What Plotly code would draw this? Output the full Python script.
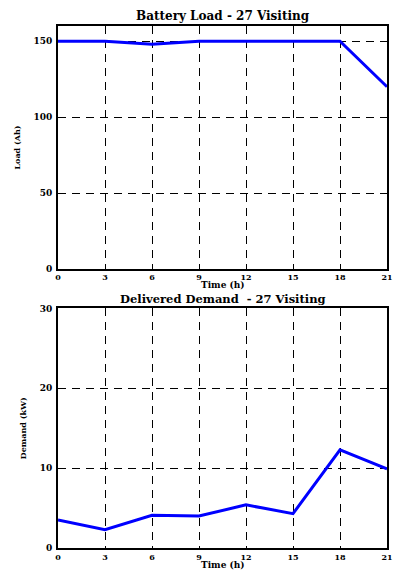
import plotly.graph_objects as go

hours = [0, 3, 6, 9, 12, 15, 18, 21]
battery_load = [150, 150, 148, 150, 150, 150, 150, 120]
delivered_demand = [3.5, 2.3, 4.1, 4.0, 5.4, 4.3, 12.3, 9.9]
x_ticks = [0, 3, 6, 9, 12, 15, 18, 21]
load_ticks = [0, 50, 100, 150]
demand_ticks = [0, 10, 20, 30]

FONT = "DejaVu Serif"
TOP_DOM = [0.5345, 1]
BOT_DOM = [0, 0.459]

fig = go.Figure()
fig.add_trace(go.Scatter(x=hours, y=battery_load, mode="lines",
                         line=dict(color="#0000FF", width=3), xaxis="x", yaxis="y"))
fig.add_trace(go.Scatter(x=hours, y=delivered_demand, mode="lines",
                         line=dict(color="#0000FF", width=3), xaxis="x2", yaxis="y2"))

axis_common = dict(showline=True, linecolor="black", linewidth=1.8, mirror=True,
                   showgrid=True, gridcolor="black", gridwidth=1, griddash="8px,6px",
                   zeroline=False, ticks="")
xtickfont = dict(family=FONT, size=8, color="black", weight="bold")
ytickfont = dict(family=FONT, size=9, color="black", weight="bold")

fig.update_layout(
    width=401, height=571,
    margin=dict(l=58, r=8, t=26, b=23),
    plot_bgcolor="white", paper_bgcolor="white",
    showlegend=False,
    font=dict(family=FONT, color="black"),
    xaxis=dict(domain=[0, 1], anchor="y", range=[0, 21], tickvals=x_ticks,
               ticklabelstandoff=0, tickfont=xtickfont, **axis_common),
    yaxis=dict(domain=TOP_DOM, anchor="x", range=[0, 160], tickvals=load_ticks,
               ticklabelstandoff=2, tickfont=ytickfont,
               title=dict(text="<b>Load (Ah)</b>", font=dict(family=FONT, size=8), standoff=12),
               **axis_common),
    xaxis2=dict(domain=[0, 1], anchor="y2", range=[0, 21], tickvals=x_ticks,
                ticklabelstandoff=0, tickfont=xtickfont, **axis_common),
    yaxis2=dict(domain=BOT_DOM, anchor="x2", range=[0, 30], tickvals=demand_ticks,
                ticklabelstandoff=2, tickfont=ytickfont,
                title=dict(text="<b>Demand (kW)</b>", font=dict(family=FONT, size=8), standoff=12),
                **axis_common),
    annotations=[
        dict(text="<b>Battery Load - 27 Visiting</b>", x=0.5, y=TOP_DOM[1], xref="paper", yref="paper",
             xanchor="center", yanchor="middle", yshift=10, showarrow=False, borderpad=0,
             font=dict(family=FONT, size=12, color="black")),
        dict(text="<b>Delivered Demand  - 27 Visiting</b>", x=0.5, y=BOT_DOM[1], xref="paper", yref="paper",
             xanchor="center", yanchor="middle", yshift=9, showarrow=False, borderpad=0,
             font=dict(family=FONT, size=11.5, color="black")),
        dict(text="<b>Time (h)</b>", x=0.5, y=TOP_DOM[0], xref="paper", yref="paper",
             xanchor="center", yanchor="middle", yshift=-16, showarrow=False, borderpad=0,
             font=dict(family=FONT, size=9, color="black")),
        dict(text="<b>Time (h)</b>", x=0.5, y=BOT_DOM[0], xref="paper", yref="paper",
             xanchor="center", yanchor="middle", yshift=-17, showarrow=False, borderpad=0,
             font=dict(family=FONT, size=9, color="black")),
    ],
)

fig.write_html("out.html")
